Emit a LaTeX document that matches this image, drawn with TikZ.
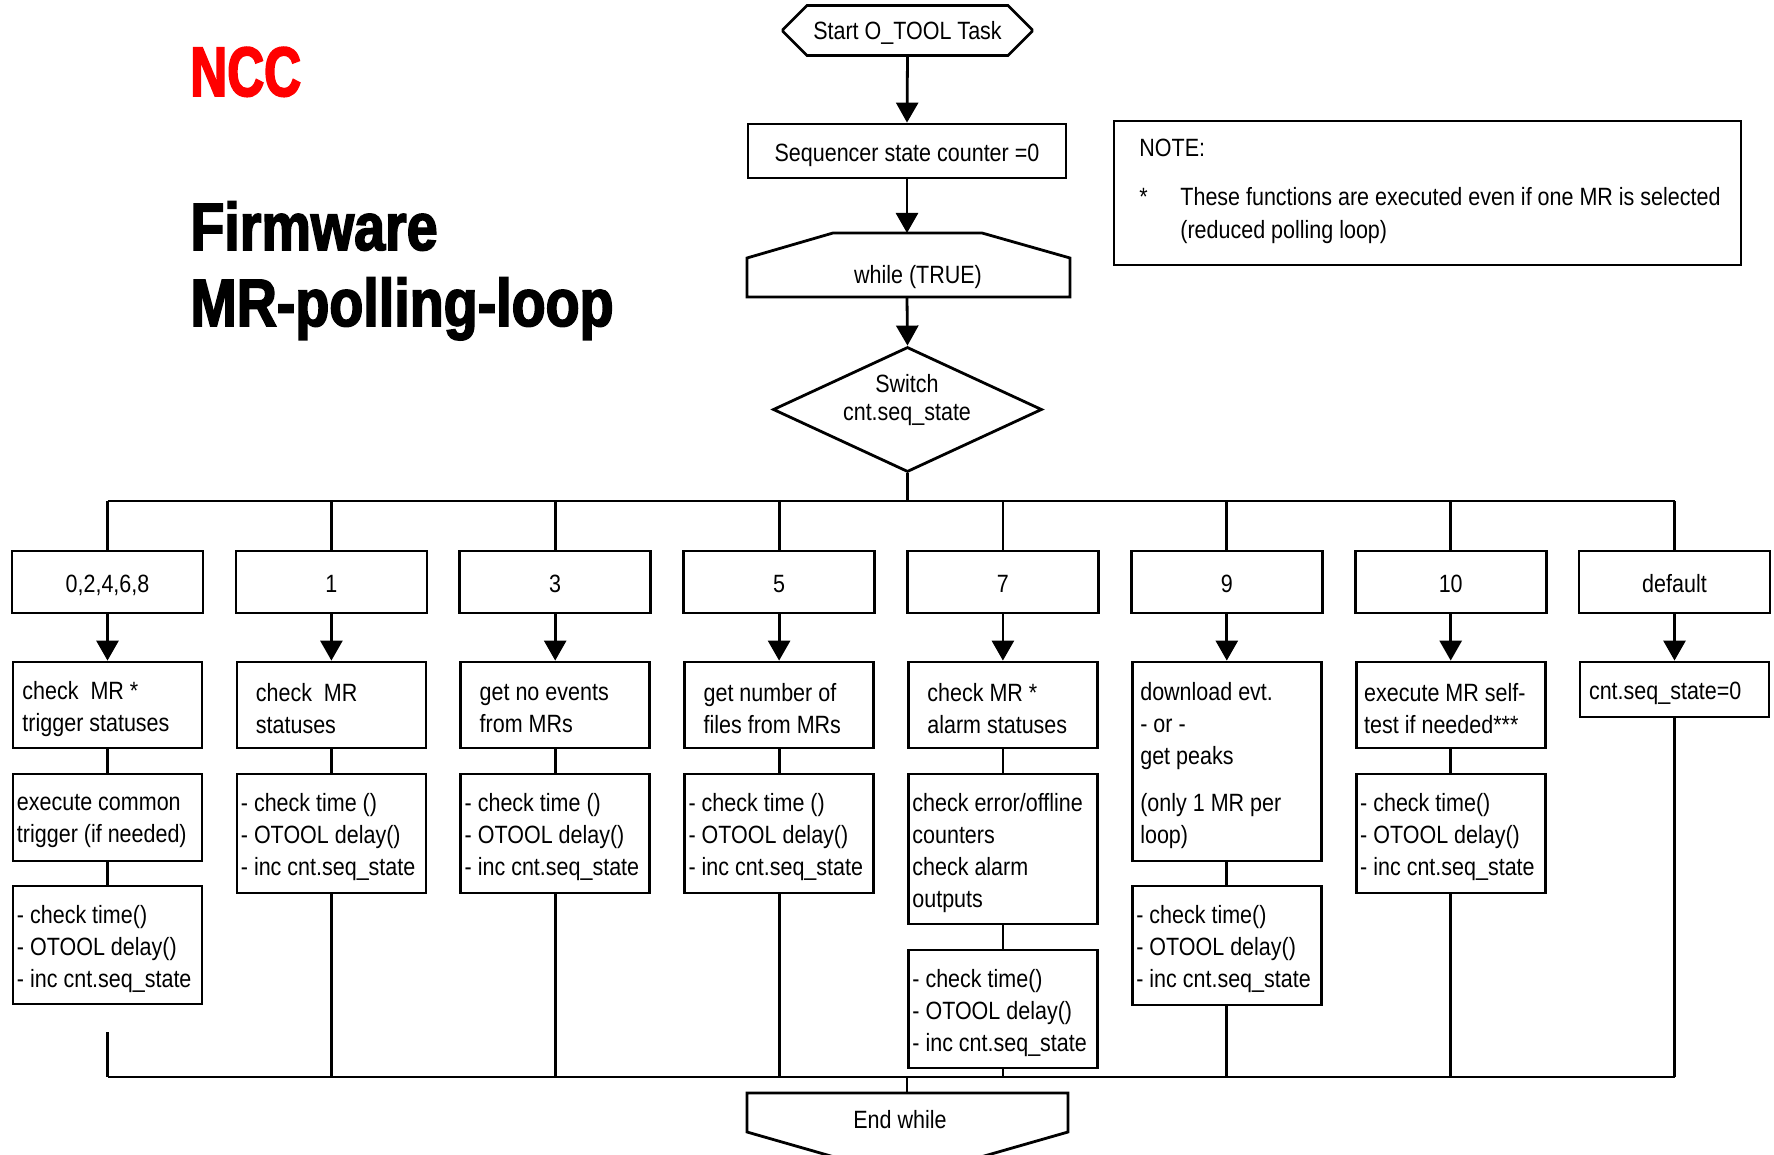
\documentclass[tikz,border=0pt]{standalone}
\usepackage{fontspec}
\setmainfont[FakeStretch=0.86]{Liberation Sans}
\newfontfamily\titlefont[FakeStretch=0.83,FakeBold=2.5]{Liberation Sans Bold}
\newfontfamily\nccfont[FakeStretch=0.73,FakeBold=2.5]{Liberation Sans Bold}
\usetikzlibrary{arrows.meta,shapes.geometric,shapes.misc}
\begin{document}
\begin{tikzpicture}[x=0.5pt,y=-0.5pt,line width=1.4pt,
  every node/.style={font=\fontsize{12.5}{16}\selectfont, inner sep=0pt},
  bx/.style={draw, rectangle, minimum width=94.5pt},
  kb/.style={draw, rectangle, minimum width=95.5pt, minimum height=31pt, text height=12.5pt, text depth=2.1pt},
  tx/.style={align=left, anchor=west, yshift=-2pt},
  arr/.style={-{Triangle[length=10pt,width=11pt]}}]
\fill[white] (0,0) rectangle (1774,1155);
\clip (0,0) rectangle (1774,1155);

% title
\node[anchor=base west, text=red, font=\nccfont\fontsize{35}{40}\selectfont] (ncc) at (189,96) {NCC};
\node[anchor=base west, font=\titlefont\fontsize{33.5}{38}\selectfont] (t1) at (189,250) {Firmware};
\node[anchor=base west, font=\titlefont\fontsize{33.5}{38}\selectfont] (t2) at (189,326) {MR-polling-loop};

% note
\node[draw, rectangle, minimum width=313.5pt, minimum height=72pt] (note) at (1427.5,193) {};
\node[anchor=base west] (n1) at (1138,157) {NOTE:};
\node[anchor=base west] (n2) at (1138,206) {*};
\node[anchor=base west] (n3) at (1179,206) {These functions are executed even if one MR is selected};
\node[anchor=base west] (n4) at (1179,239) {(reduced polling loop)};

% top flow
\node[draw, chamfered rectangle, chamfered rectangle xsep=6pt, chamfered rectangle ysep=6pt,
      minimum width=124.5pt, minimum height=22.5pt, text height=11pt, text depth=2pt] (start) at (907.5,30.5) {Start O\_TOOL Task};
\node[draw, rectangle, minimum width=159pt, minimum height=27pt, text height=13pt, text depth=2pt] (seq) at (907,151) {Sequencer state counter =0};
\draw (747,297) -- (747,258) -- (833,233) -- (982,233) -- (1070,258) -- (1070,297) -- cycle;
\coordinate (whileT) at (907,233);
\coordinate (whileB) at (907,297);
\node (whilet) at (918,277) {while (TRUE)};
\node[draw, diamond, minimum width=134.5pt, minimum height=62.5pt] (sw) at (907.5,409.5) {};
\node[align=center, font=\fontsize{12.5}{14}\selectfont] (swt) at (907,400) {Switch\\cnt.seq\_state};

\draw[arr] (start.south) -- (seq.north);
\draw[arr] (seq.south) -- (whileT);
\draw[arr] (whileB) -- (sw.north);

% bus
\coordinate (busL) at (107.5,501);
\coordinate (busR) at (1674.5,501);
\draw (busL) -- (busR);
\draw (sw.south) -- (sw.south |- busL);

% case boxes
\node[kb] (k1) at (107.5,582) {0,2,4,6,8};
\node[kb] (k2) at (331.4,582) {1};
\node[kb] (k3) at (555.2,582) {3};
\node[kb] (k4) at (779.1,582) {5};
\node[kb] (k5) at (1002.9,582) {7};
\node[kb] (k6) at (1226.8,582) {9};
\node[kb] (k7) at (1450.7,582) {10};
\node[kb] (k8) at (1674.5,582) {default};
\foreach \k in {k1,k2,k3,k4,k5,k6,k7,k8} {\draw (\k.north) -- (\k.north |- busL);}

% row 2
\node[bx, minimum height=43pt] (a1) at (107.5,705) {};
\node[tx] (a1t) at ([xshift=4.75pt]a1.west) {check\ \ MR *\\trigger statuses};
\node[bx, minimum height=43pt] (a2) at (331.4,705) {};
\node[tx] (a2t) at ([xshift=9.5pt]a2.west) {check\ \ MR\\statuses};
\node[bx, minimum height=43pt] (a3) at (555.2,705) {};
\node[tx] (a3t) at ([xshift=9.5pt]a3.west) {get no events\\from MRs};
\node[bx, minimum height=43pt] (a4) at (779.1,705) {};
\node[tx] (a4t) at ([xshift=9.5pt]a4.west) {get number of\\files from MRs};
\node[bx, minimum height=43pt] (a5) at (1002.9,705) {};
\node[tx] (a5t) at ([xshift=9.5pt]a5.west) {check MR *\\alarm statuses};
\node[bx, minimum height=99.5pt] (a6) at (1226.8,761.5) {};
\node[tx] (a6t) at ([xshift=4pt]a6.west) {download evt.\\- or -\\get peaks\\[7.5pt](only 1 MR per\\loop)};
\node[bx, minimum height=43pt] (a7) at (1450.7,705) {};
\node[tx] (a7t) at ([xshift=4pt]a7.west) {execute MR self-\\test if needed***};
\node[bx, minimum height=27.5pt] (a8) at (1674.5,689.5) {};
\node[tx] (a8t) at ([xshift=4.5pt]a8.west) {cnt.seq\_state=0};

\foreach \i in {1,...,8} {\draw[arr] (k\i.south) -- (a\i.north);}

% row 3
\node[bx, minimum height=43.5pt] (b1) at (107.5,817.5) {};
\node[tx] (b1t) at ([xshift=2pt]b1.west) {execute common\\trigger (if needed)};
\node[bx, minimum height=59.5pt] (b2) at (331.4,833.5) {};
\node[tx] (b2t) at ([xshift=2pt]b2.west) {- check time ()\\- OTOOL delay()\\- inc cnt.seq\_state};
\node[bx, minimum height=59.5pt] (b3) at (555.2,833.5) {};
\node[tx] (b3t) at ([xshift=2pt]b3.west) {- check time ()\\- OTOOL delay()\\- inc cnt.seq\_state};
\node[bx, minimum height=59.5pt] (b4) at (779.1,833.5) {};
\node[tx] (b4t) at ([xshift=2pt]b4.west) {- check time ()\\- OTOOL delay()\\- inc cnt.seq\_state};
\node[bx, minimum height=75pt] (b5) at (1002.9,849) {};
\node[tx] (b5t) at ([xshift=2pt]b5.west) {check error/offline\\counters\\check alarm\\outputs};
\node[bx, minimum height=59.5pt] (b6) at (1226.8,945.5) {};
\node[tx] (b6t) at ([xshift=2pt]b6.west) {- check time()\\- OTOOL delay()\\- inc cnt.seq\_state};
\node[bx, minimum height=59.5pt] (b7) at (1450.7,833.5) {};
\node[tx] (b7t) at ([xshift=2pt]b7.west) {- check time()\\- OTOOL delay()\\- inc cnt.seq\_state};

\foreach \i in {1,...,7} {\draw (a\i.south) -- (b\i.north);}

% row 4
\node[bx, minimum height=59pt] (c1) at (107.5,945) {};
\node[tx] (c1t) at ([xshift=2pt]c1.west) {- check time()\\- OTOOL delay()\\- inc cnt.seq\_state};
\node[bx, minimum height=59pt] (c5) at (1002.9,1009) {};
\node[tx] (c5t) at ([xshift=2pt]c5.west) {- check time()\\- OTOOL delay()\\- inc cnt.seq\_state};
\draw (b1.south) -- (c1.north);
\draw (b5.south) -- (c5.north);

% bottom bus
\coordinate (bbL) at (107.5,1077);
\coordinate (bbR) at (1674.5,1077);
\draw (bbL) -- (bbR);
\coordinate (g1) at (107.5,1032);
\draw (g1) -- (g1 |- bbL);
\foreach \n in {b2,b3,b4,c5,b6,b7,a8} {\draw (\n.south) -- (\n.south |- bbL);}

% end while
\draw (747,1093) -- (1068,1093) -- (1068,1132) -- (907.5,1178) -- (747,1132) -- cycle;
\coordinate (endT) at (907,1093);
\node (endt) at (900,1120) {End while};
\draw (endT |- bbL) -- (endT);
\end{tikzpicture}
\end{document}
